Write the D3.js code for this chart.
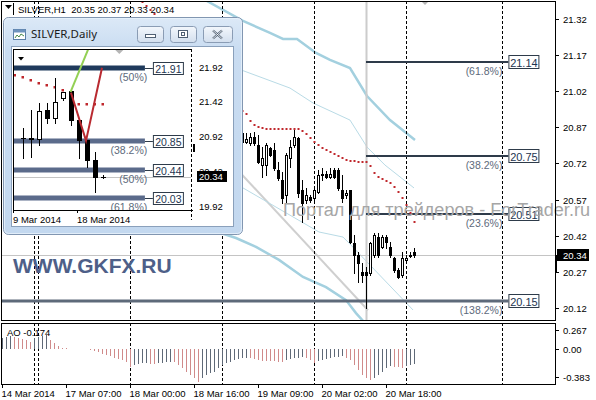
<!DOCTYPE html>
<html><head><meta charset="utf-8">
<script src="https://cdn.jsdelivr.net/npm/d3@7/dist/d3.min.js"></script>
<style>
html,body{margin:0;padding:0;background:#fff;}
svg{display:block;}
text{font-family:"Liberation Sans",Arial,sans-serif;}
</style></head>
<body>
<svg id="chart" width="596" height="400"></svg>
<script>
// ================= DATA =================
const symbolTitle = "SILVER,H1  20.35 20.37 20.33 20.34";
const insetTitle = "SILVER,Daily";
const watermark = "Портал для трейдеров - ForTrader.ru";
const brand = "WWW.GKFX.RU";

// H1 candles (bar index = firstCandleBar + i)
const firstCandleBar = 60;
const candleOpen  = [20.845,20.81,20.803,20.831,20.796,20.713,20.713,20.783,20.776,20.693,20.651,20.589,20.741,20.796,20.824,20.609,20.568,20.582,20.575,20.602,20.672,20.676,20.665,20.693,20.693,20.609,20.589,20.609,20.388,20.339,20.27,20.27,20.263,20.339,20.416,20.374,20.416,20.374,20.326,20.277,20.256,20.319,20.335,20.35];
const candleHigh  = [20.859,20.845,20.845,20.852,20.838,20.789,20.803,20.79,20.803,20.727,20.686,20.762,20.817,20.859,20.831,20.651,20.617,20.59,20.623,20.693,20.699,20.69,20.699,20.699,20.699,20.672,20.609,20.609,20.423,20.353,20.305,20.291,20.395,20.43,20.43,20.423,20.423,20.395,20.332,20.284,20.353,20.34,20.35,20.37];
const candleLow   = [20.796,20.803,20.796,20.796,20.72,20.665,20.672,20.75,20.693,20.651,20.554,20.554,20.706,20.789,20.582,20.478,20.554,20.56,20.568,20.596,20.651,20.66,20.658,20.658,20.609,20.561,20.575,20.388,20.263,20.229,20.229,20.118,20.256,20.332,20.332,20.367,20.367,20.332,20.27,20.243,20.249,20.31,20.33,20.33];
const candleClose = [20.81,20.82,20.828,20.803,20.727,20.741,20.796,20.755,20.699,20.658,20.575,20.755,20.789,20.831,20.596,20.554,20.589,20.568,20.609,20.672,20.676,20.665,20.676,20.665,20.617,20.575,20.598,20.395,20.339,20.305,20.256,20.256,20.388,20.423,20.339,20.416,20.395,20.339,20.277,20.249,20.326,20.326,20.339,20.34];

// Awesome Oscillator, bars 0..103
const aoValues = [0.131,0.143,0.155,0.143,0.131,0.116,0.101,0.085,0.124,0.139,
 0.151,0.159,0.104,0.066,0.035,0.012,0.008,0.004,0.003,0.002,
 0.0,-0.002,-0.008,-0.023,-0.039,-0.054,-0.070,-0.085,-0.101,-0.116,
 -0.131,-0.155,-0.209,-0.186,-0.174,-0.166,-0.162,-0.170,-0.174,-0.166,
 -0.162,-0.155,-0.147,-0.155,-0.186,-0.224,-0.263,-0.302,-0.340,-0.383,
 -0.340,-0.302,-0.282,-0.263,-0.224,-0.186,-0.166,-0.147,-0.128,-0.116,
 -0.108,-0.104,-0.108,-0.116,-0.128,-0.135,-0.139,-0.143,-0.145,-0.147,
 -0.151,-0.131,-0.120,-0.108,-0.101,-0.097,-0.108,-0.128,-0.166,-0.139,
 -0.124,-0.112,-0.104,-0.097,-0.089,-0.085,-0.101,-0.128,-0.186,-0.244,
 -0.302,-0.340,-0.360,-0.333,-0.302,-0.263,-0.224,-0.200,-0.205,-0.212,
 -0.222,-0.195,-0.183,-0.174];
const aoLabel = "AO -0.174";
const aoTicks = [0.267, 0, -0.383];
const aoTickLabels = ["0.267", "0.00", "-0.383"];

// Red dotted indicator (bar, value)
const dotBars   = [35,36,37,38,60,61,62,63,64,65,66,67,68,69,70,71,72,73,74,75,76,77,78,79,80,81,82,83,84,85,86,87,88,89,90,91,92,93,94,95,96,97,98,99,100,101,102,103];
const dotValues = [21.391,21.374,21.357,21.341,20.938,20.925,20.896,20.880,20.871,20.867,20.865,20.863,20.863,20.863,20.863,20.863,20.863,20.863,20.861,20.855,20.842,20.826,20.809,20.796,20.784,20.776,20.767,20.759,20.751,20.742,20.734,20.730,20.728,20.726,20.726,20.726,20.709,20.680,20.664,20.655,20.647,20.639,20.622,20.601,20.576,20.547,20.514,20.477];

// Channel lines: [bar, price] vertices
const upperThickBand = [[50.75,21.399],[60.25,21.312],[67,21.262],[70.25,21.237],[73.75,21.237],[78.5,21.179],[82,21.150],[87,21.116],[91.25,21.000],[97,20.900],[103.25,20.817]];
const upperThinBand  = [[59.5,21.11],[72,21.033],[77.75,20.971],[87,20.900],[91.25,20.788],[95.75,20.713],[103,20.618]];
const lowerThickBand = [[49.5,20.460],[58.5,20.410],[63.5,20.373],[69.25,20.319],[75.25,20.248],[81,20.206],[86,20.152],[88.5,20.098],[90.5,20.061],[93,19.98]];
const lowerThinBand  = [[58.5,20.635],[60.25,20.618],[79.25,20.435],[85.25,20.414],[86.75,20.389],[102.75,20.111]];
const regressionLine = [[58.5,20.70],[91.5,20.11]];

// axes
const timeTickBars = [0,16,32,48,64,80,96];
const timeTickLabels = ["14 Mar 2014","17 Mar 07:00","18 Mar 00:00","18 Mar 16:00","19 Mar 09:00","20 Mar 02:00","20 Mar 18:00"];
const separatorBars = [8,9,32,55,78,101,125];
const priceTicks = [21.32,21.17,21.02,20.87,20.72,20.57,20.42,20.27,20.12];
const lastPrice = 20.34;

// Fibonacci levels on H1
const fibLevels = [21.14, 20.75, 20.51, 20.15];
const fibPercents = ["(61.8%)","(38.2%)","(23.6%)","(138.2%)"];
const fibStartBar = 91;
const fibEndBar = 126.6;

// ---- Daily inset data (day index 1..11 = 10 Mar .. 20 Mar) ----
const dayIndex   = [1,2,3,4,5,6,7,8,9,10,11];
const dayOpen    = [20.90,20.88,20.88,21.30,21.19,21.47,21.58,21.16,20.87,20.58,20.34];
const dayHigh    = [21.04,21.30,21.40,21.40,21.76,21.56,21.59,21.16,20.87,20.70,20.36];
const dayLow     = [20.61,20.625,20.80,21.11,21.11,21.45,21.09,20.61,20.48,20.12,20.33];
const dayClose   = [20.89,20.90,21.29,21.19,21.42,21.56,21.16,20.87,20.58,20.34,20.34];
const dayTickIdx = [0, 8];
const dayTickLabels = ["9 Mar 2014","18 Mar 2014"];
const dayPriceTicks = [21.92,21.42,20.92,20.42,19.92];
const dayDotIdx = [0,1,2,3,4,5,6,8,9,10,11];
const dayDotValues = [21.805,21.776,21.733,21.690,21.661,21.632,21.589,21.388,21.388,21.388,21.388];
const dayFibLevels = [21.91, 20.85, 20.44, 20.03];
const dayFibPercents = ["(50%)","(38.2%)","(50%)","(61.8%)"];
const greenTrend = [[7.0,21.56],[9.3,22.20]];
const redZigzag = [[7.06,21.55],[8.94,20.86],[10.94,21.91]];

// ================= DRAW =================
const svg = d3.select("#chart");
const defs = svg.append("defs");

const plotL = 1, plotR = 556, plotT = 1, plotB = 320;
const aoT = 323, aoB = 384;

const x = d3.scaleLinear().domain([0, 1]).range([2, 6]);
const y = d3.scaleLinear().domain([20.12, 21.32]).range([307.8, 19]);
const yAO = d3.scaleLinear().domain([-0.383, 0.267]).range([382, 326]);

defs.append("clipPath").attr("id","mainClip").append("rect")
  .attr("x",plotL).attr("y",plotT).attr("width",plotR-plotL).attr("height",plotB-plotT);
defs.append("clipPath").attr("id","aoClip").append("rect")
  .attr("x",plotL).attr("y",aoT).attr("width",plotR-plotL).attr("height",aoB-aoT);

svg.append("rect").attr("width",596).attr("height",400).attr("fill","#fff");

const main = svg.append("g").attr("clip-path","url(#mainClip)");
const lineGen = d3.line().x(d=>x(d[0])).y(d=>y(d[1]));

// channel lines
main.append("path").datum(regressionLine).attr("d",lineGen).attr("fill","none").attr("stroke","#cfcfcf").attr("stroke-width",2);
main.append("path").datum(upperThinBand).attr("d",lineGen).attr("fill","none").attr("stroke","#b9dbe6").attr("stroke-width",1);
main.append("path").datum(lowerThinBand).attr("d",lineGen).attr("fill","none").attr("stroke","#b9dbe6").attr("stroke-width",1);
main.append("path").datum(upperThickBand).attr("d",lineGen).attr("fill","none").attr("stroke","#a3d0df").attr("stroke-width",2.5);
main.append("path").datum(lowerThickBand).attr("d",lineGen).attr("fill","none").attr("stroke","#a3d0df").attr("stroke-width",2.5);

// separators
main.selectAll("line.sep").data(separatorBars).enter().append("line")
  .attr("x1",d=>x(d)+0.5).attr("x2",d=>x(d)+0.5).attr("y1",plotT).attr("y2",plotB)
  .attr("stroke","#000").attr("stroke-dasharray","3,2").attr("shape-rendering","crispEdges");

// fib vertical anchor line
main.append("line").attr("x1",x(fibStartBar)+0.5).attr("x2",x(fibStartBar)+0.5).attr("y1",plotT).attr("y2",plotB)
  .attr("stroke","#cccccc").attr("stroke-width",2);

// last price line
main.append("line").attr("x1",plotL).attr("x2",plotR).attr("y1",Math.round(y(lastPrice))+0.5).attr("y2",Math.round(y(lastPrice))+0.5)
  .attr("stroke","#c4c4c4").attr("shape-rendering","crispEdges");

// fib lines
fibLevels.forEach((p,i)=>{
  const full = i===3;
  const yy = Math.round(y(p));
  main.append("line").attr("x1", full?plotL:x(fibStartBar)).attr("x2",x(fibEndBar))
    .attr("y1",yy).attr("y2",yy)
    .attr("stroke", full?"#5e6a7a":"#2e3b4a").attr("stroke-width", full?3:2);
  main.append("rect").attr("x",x(fibEndBar)+0.5).attr("y",yy-6.5).attr("width",30).attr("height",13)
    .attr("fill","#fff").attr("stroke","#2e3b4a");
  main.append("text").attr("x",x(fibEndBar)+15.5).attr("y",yy+0.5).attr("text-anchor","middle")
    .attr("dominant-baseline","central").attr("font-size",11).attr("fill","#1e3550").text(p.toFixed(2));
  main.append("text").attr("x",x(fibEndBar)-6).attr("y",yy+8.5).attr("text-anchor","end")
    .attr("dominant-baseline","central").attr("font-size",10.5).attr("fill","#5d6a7b").text(fibPercents[i]);
});

// candles
const candles = candleOpen.map((o,i)=>({k:firstCandleBar+i,o,h:candleHigh[i],l:candleLow[i],c:candleClose[i]}));
const cg = main.append("g");
candles.forEach(d=>{
  const cx = x(d.k);
  cg.append("line").attr("x1",cx+0.5).attr("x2",cx+0.5).attr("y1",Math.round(y(d.h))).attr("y2",Math.round(y(d.l))+1)
    .attr("stroke","#000").attr("shape-rendering","crispEdges");
  const top = Math.round(y(Math.max(d.o,d.c))), bot = Math.round(y(Math.min(d.o,d.c)));
  if (d.c >= d.o) {
    cg.append("rect").attr("x",cx-0.5).attr("y",top+0.5).attr("width",2).attr("height",Math.max(bot-top,1))
      .attr("fill","#fff").attr("stroke","#000").attr("shape-rendering","crispEdges");
  } else {
    cg.append("rect").attr("x",cx-1).attr("y",top).attr("width",3).attr("height",Math.max(bot-top,1)+1)
      .attr("fill","#000").attr("shape-rendering","crispEdges");
  }
});

// red dots
main.selectAll("rect.dot").data(dotBars.map((b,i)=>[b,dotValues[i]])).enter().append("rect")
  .attr("x",d=>x(d[0])-0.5).attr("y",d=>Math.round(y(d[1]))-1).attr("width",2).attr("height",2)
  .attr("fill","#c0282d");

// top markers
svg.append("path").attr("d",`M${x(104.75)},1 L${x(104.75)+4},5 L${x(104.75)+8},1 Z`).attr("fill","#b5b5b5");

// watermark & brand
svg.append("text").attr("x",283).attr("y",216).attr("font-size",18).attr("fill","#a6a6a6")
  .attr("textLength",307).attr("lengthAdjust","spacingAndGlyphs").text(watermark);
svg.append("text").attr("x",13).attr("y",273).attr("font-size",21).attr("font-weight","bold")
  .attr("fill","#4e5f88").text(brand);

// frames
svg.append("rect").attr("x",plotL+0.5).attr("y",plotT+0.5).attr("width",plotR-plotL-1).attr("height",plotB-plotT)
  .attr("fill","none").attr("stroke","#000").attr("shape-rendering","crispEdges");
svg.append("rect").attr("x",plotL+0.5).attr("y",aoT+0.5).attr("width",plotR-plotL-1).attr("height",aoB-aoT)
  .attr("fill","none").attr("stroke","#000").attr("shape-rendering","crispEdges");

// price axis
priceTicks.forEach(p=>{
  const yy = Math.round(y(p))+0.5;
  svg.append("line").attr("x1",plotR).attr("x2",plotR+3).attr("y1",yy).attr("y2",yy).attr("stroke","#000").attr("shape-rendering","crispEdges");
  svg.append("text").attr("x",563).attr("y",yy).attr("dominant-baseline","central").attr("font-size",9.5).attr("fill","#000").text(p.toFixed(2));
});
const lpY = Math.round(y(lastPrice));
svg.append("rect").attr("x",557).attr("y",lpY-6).attr("width",32).attr("height",12).attr("fill","#000");
svg.append("text").attr("x",563).attr("y",lpY).attr("dominant-baseline","central").attr("font-size",9.5).attr("fill","#fff").text(lastPrice.toFixed(2));
svg.append("rect").attr("x",plotR-1).attr("y",lpY).attr("width",2).attr("height",Math.round(y(20.27))-lpY+1).attr("fill","#000");

// AO panel
const ao = svg.append("g").attr("clip-path","url(#aoClip)");
ao.selectAll("line.sep").data(separatorBars).enter().append("line")
  .attr("x1",d=>x(d)+0.5).attr("x2",d=>x(d)+0.5).attr("y1",aoT).attr("y2",aoB)
  .attr("stroke","#000").attr("stroke-dasharray","3,2").attr("shape-rendering","crispEdges");
ao.selectAll("line.bar").data(aoValues).enter().append("line")
  .attr("x1",(d,i)=>x(i)+0.5).attr("x2",(d,i)=>x(i)+0.5)
  .attr("y1",yAO(0)).attr("y2",d=>yAO(d))
  .attr("stroke",(d,i)=> (i===0 || d>=aoValues[i-1]) ? "#5f6977" : "#d08a8a")
  .attr("shape-rendering","crispEdges");
svg.append("text").attr("x",7).attr("y",336).attr("font-size",9.5).attr("fill","#000").text(aoLabel);
aoTicks.forEach((v,i)=>{
  const yy = Math.round(yAO(v)) + (i===0?4:(i===2?-5:0));
  svg.append("line").attr("x1",plotR).attr("x2",plotR+3).attr("y1",yy+0.5).attr("y2",yy+0.5).attr("stroke","#000").attr("shape-rendering","crispEdges");
  svg.append("text").attr("x",563).attr("y",yy).attr("dominant-baseline","central").attr("font-size",9.5).attr("fill","#000").text(aoTickLabels[i]);
});

// time axis
timeTickBars.forEach((b,i)=>{
  svg.append("line").attr("x1",x(b)+0.5).attr("x2",x(b)+0.5).attr("y1",aoB).attr("y2",aoB+4).attr("stroke","#000").attr("shape-rendering","crispEdges");
  svg.append("text").attr("x",x(b)-0.5).attr("y",397).attr("font-size",9.5).attr("fill","#000").text(timeTickLabels[i]);
});

// title
svg.append("path").attr("d","M5,5 L12,5 L8.5,9 Z").attr("fill","#000");
svg.append("line").attr("x1",13.5).attr("x2",13.5).attr("y1",3).attr("y2",15).attr("stroke","#000");
svg.append("text").attr("x",18).attr("y",13).attr("font-size",9.5).attr("fill","#000")
  .style("white-space","pre").text(symbolTitle);

// ================= INSET WINDOW =================
const win = svg.append("g");
const fg = defs.append("linearGradient").attr("id","frameGrad").attr("x1",0).attr("y1",0).attr("x2",0).attr("y2",1);
fg.append("stop").attr("offset","0").attr("stop-color","#dce9f7");
fg.append("stop").attr("offset","0.15").attr("stop-color","#c9dcf1");
fg.append("stop").attr("offset","1").attr("stop-color","#c3d8ef");
const bg = defs.append("linearGradient").attr("id","btnGrad").attr("x1",0).attr("y1",0).attr("x2",0).attr("y2",1);
bg.append("stop").attr("offset","0").attr("stop-color","#f3f7fc");
bg.append("stop").attr("offset","1").attr("stop-color","#d3dfee");

win.append("rect").attr("x",3.5).attr("y",17.5).attr("width",239).attr("height",217).attr("rx",5)
  .attr("fill","url(#frameGrad)").attr("stroke","#8196b1");
win.append("rect").attr("x",4.5).attr("y",18.5).attr("width",237).attr("height",215).attr("rx",4)
  .attr("fill","none").attr("stroke","#e9f2fb").attr("stroke-opacity",0.8);
// icon
win.append("rect").attr("x",13.5).attr("y",29.5).attr("width",12).attr("height",10).attr("fill","#fff").attr("stroke","#5a7fa8");
win.append("rect").attr("x",13.5).attr("y",29.5).attr("width",12).attr("height",3).attr("fill","#6e93bd");
win.append("path").attr("d","M15,38 L17,35 L19,37 L21,34 L24,36").attr("fill","none").attr("stroke","#4a8a4a");
win.append("text").attr("x",31).attr("y",38).attr("font-size",11.5).attr("fill","#1b1b1b")
  .style("font-family","'Noto Sans','Open Sans',sans-serif").text(insetTitle);
// buttons
const btns = [[137,26],[170,26],[203,29]];
btns.forEach(([bx,bw],i)=>{
  win.append("rect").attr("x",bx+0.5).attr("y",26.5).attr("width",bw).attr("height",16).attr("rx",3)
    .attr("fill","url(#btnGrad)").attr("stroke","#8a9cb4");
});
win.append("rect").attr("x",145.5).attr("y",34.5).attr("width",10).attr("height",3).attr("fill","#fff").attr("stroke","#4f5f73");
win.append("rect").attr("x",178.5).attr("y",30.5).attr("width",9).attr("height",7).attr("fill","#fff").attr("stroke","#4f5f73");
win.append("rect").attr("x",181.5).attr("y",32.5).attr("width",3).attr("height",3).attr("fill","none").attr("stroke","#4f5f73");
win.append("path").attr("d","M213,30.5 L222,38.5 M222,30.5 L213,38.5").attr("stroke","#4f5f73").attr("stroke-width",2.2);
win.append("path").attr("d","M213,30.5 L222,38.5 M222,30.5 L213,38.5").attr("stroke","#fff").attr("stroke-width",0.8);
// client
win.append("rect").attr("x",11.5).attr("y",46.5).attr("width",222).attr("height",180).attr("fill","#fff").attr("stroke","#8aa0bb");

// inset scales
const xi = d3.scaleLinear().domain([0,1]).range([14.5,22.5]);
const yi = d3.scaleLinear().domain([19.92,21.92]).range([206,67]);
const inL = 13, inR = 191, inT = 49, inB = 210;
defs.append("clipPath").attr("id","inClip").append("rect").attr("x",inL).attr("y",inT).attr("width",inR-inL).attr("height",inB-inT);
const ins = win.append("g").attr("clip-path","url(#inClip)");
const lineI = d3.line().x(d=>xi(d[0])).y(d=>yi(d[1]));

ins.append("line").attr("x1",inL).attr("x2",inR).attr("y1",Math.round(yi(lastPrice))+0.5).attr("y2",Math.round(yi(lastPrice))+0.5)
  .attr("stroke","#c4c4c4").attr("shape-rendering","crispEdges");

// fib bars
dayFibLevels.forEach((p,i)=>{
  const yy = Math.round(yi(p));
  ins.append("line").attr("x1",inL).attr("x2",xi(16.3)).attr("y1",yy).attr("y2",yy)
    .attr("stroke", i===0?"#1f3a5c":"#5b6b8b").attr("stroke-width",5);
  ins.append("line").attr("x1",xi(16.3)).attr("x2",xi(17.3)).attr("y1",yy+0.5).attr("y2",yy+0.5).attr("stroke","#2e3b4a");
  ins.append("rect").attr("x",xi(17.3)+0.5).attr("y",yy-5.5).attr("width",30).attr("height",12)
    .attr("fill","#fff").attr("stroke","#2e3b4a");
  ins.append("text").attr("x",xi(17.3)+15.5).attr("y",yy+0.5).attr("text-anchor","middle").attr("dominant-baseline","central")
    .attr("font-size",10.5).attr("fill","#1e3550").text(p.toFixed(2));
  ins.append("text").attr("x",xi(16.6)).attr("y",yy+8.5).attr("text-anchor","end").attr("dominant-baseline","central")
    .attr("font-size",10.5).attr("fill","#5d6a7b").text(dayFibPercents[i]);
});

// inset red dots
ins.selectAll("rect.d").data(dayDotIdx.map((k,i)=>[k,dayDotValues[i]])).enter().append("rect")
  .attr("x",d=>xi(d[0])-1).attr("y",d=>Math.round(yi(d[1]))-1).attr("width",2.5).attr("height",2.5).attr("fill","#c0282d");

// inset candles
dayIndex.forEach((k,i)=>{
  const o=dayOpen[i],h=dayHigh[i],l=dayLow[i],c=dayClose[i];
  const cx = Math.round(xi(k));
  ins.append("line").attr("x1",cx+0.5).attr("x2",cx+0.5).attr("y1",Math.round(yi(h))).attr("y2",Math.round(yi(l))+1)
    .attr("stroke","#000").attr("shape-rendering","crispEdges");
  const top=Math.round(yi(Math.max(o,c))), bot=Math.round(yi(Math.min(o,c)));
  if (Math.abs(c-o) < 0.015) {
    ins.append("line").attr("x1",cx-2).attr("x2",cx+3).attr("y1",top+0.5).attr("y2",top+0.5).attr("stroke","#000").attr("shape-rendering","crispEdges");
  } else if (c>o) {
    ins.append("rect").attr("x",cx-1.5).attr("y",top+0.5).attr("width",4).attr("height",bot-top)
      .attr("fill","#fff").attr("stroke","#000").attr("shape-rendering","crispEdges");
  } else {
    ins.append("rect").attr("x",cx-2).attr("y",top).attr("width",5).attr("height",bot-top+1).attr("fill","#000");
  }
});

// trend lines
ins.append("path").datum(greenTrend).attr("d",lineI).attr("fill","none").attr("stroke","#93d054").attr("stroke-width",2);
ins.append("path").datum(redZigzag).attr("d",lineI).attr("fill","none").attr("stroke","#b92a30").attr("stroke-width",2);

// inset markers
win.append("path").attr("d","M18,57 L24,57 L21,60.5 Z").attr("fill","#000");
win.append("path").attr("d",`M${xi(12.6)},50 L${xi(12.6)+4},54 L${xi(12.6)+8},50 Z`).attr("fill","#b5b5b5");

// inset frame & axis
win.append("path").attr("d",`M${inL+0.5},${inT+0.5} L${inR},${inT+0.5} M${inL+0.5},${inT} L${inL+0.5},${inB+0.5} L${inR+2},${inB+0.5}`)
  .attr("fill","none").attr("stroke","#000").attr("shape-rendering","crispEdges");
win.append("line").attr("x1",inR+0.5).attr("x2",inR+0.5).attr("y1",inT).attr("y2",inB+10)
  .attr("stroke","#000").attr("stroke-dasharray","3,2").attr("shape-rendering","crispEdges");
dayPriceTicks.forEach(p=>{
  win.append("text").attr("x",199).attr("y",yi(p)).attr("dominant-baseline","central").attr("font-size",9.5).attr("fill","#000").text(p.toFixed(2));
});
win.append("rect").attr("x",197).attr("y",Math.round(yi(lastPrice))-6).attr("width",30).attr("height",11).attr("fill","#000");
win.append("text").attr("x",199).attr("y",Math.round(yi(lastPrice))-0.5).attr("dominant-baseline","central").attr("font-size",9.5).attr("fill","#fff").text(lastPrice.toFixed(2));
win.append("rect").attr("x",193).attr("y",Math.round(yi(20.85))+3).attr("width",2).attr("height",8).attr("fill","#000");
dayTickIdx.forEach((k,i)=>{
  win.append("line").attr("x1",Math.round(xi(k))-1.5).attr("x2",Math.round(xi(k))-1.5).attr("y1",inB).attr("y2",inB+3).attr("stroke","#000");
  win.append("text").attr("x",xi(k)-1.5).attr("y",223).attr("font-size",9.5).attr("fill","#000").text(dayTickLabels[i]);
});
</script>
</body></html>
